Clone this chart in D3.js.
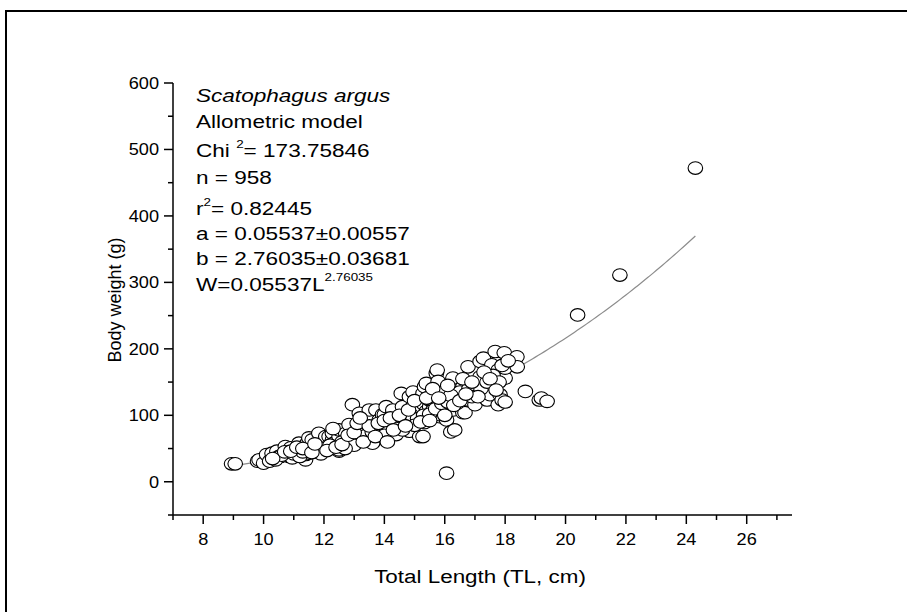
<!DOCTYPE html>
<html>
<head>
<meta charset="utf-8">
<script src="https://cdn.jsdelivr.net/npm/d3@7"></script>
<style>
  html, body { margin: 0; padding: 0; background: #fff; }
  svg { display: block; font-family: Arial, "Liberation Sans", sans-serif; }
</style>
</head>
<body>
<div id="root"></div>
<script>
const totalLength = [
  8.94, 9.06, 9.8, 9.85, 10.0, 10.1, 10.2, 10.28, 10.44, 10.5, 10.56, 10.72, 10.83, 10.85, 10.9,
  10.95, 11.17, 11.17, 11.2, 11.39, 11.4, 11.44, 11.5, 11.5, 11.61, 11.61, 11.72, 11.83, 11.83, 11.94,
  12.06, 12.06, 12.17, 12.28, 12.28, 12.28, 12.33, 12.5, 12.5, 12.5, 12.5, 12.72, 12.78, 12.83, 12.94,
  12.94, 13.06, 13.17, 13.17, 13.17, 13.33, 13.39, 13.39, 13.5, 13.5, 13.5, 13.61, 13.72, 13.83, 13.83,
  13.94, 13.94, 14.0, 14.06, 14.17, 14.22, 14.28, 14.28, 14.39, 14.5, 14.5, 14.56, 14.6, 14.61, 14.72,
  14.83, 14.83, 14.94, 14.94, 14.95, 15.06, 15.17, 15.17, 15.22, 15.28, 15.28, 15.28, 15.33, 15.33, 15.39,
  15.39, 15.39, 15.5, 15.5, 15.56, 15.61, 15.61, 15.72, 15.75, 15.78, 15.83, 15.83, 15.83, 15.94, 15.94,
  16.0, 16.06, 16.06, 16.06, 16.2, 16.27, 16.28, 16.33, 16.39, 16.6, 16.6, 16.67, 16.77, 16.77, 17.0,
  17.0, 17.17, 17.17, 17.28, 17.4, 17.5, 17.56, 17.57, 17.67, 17.77, 17.77, 17.83, 17.9, 17.97, 18.0,
  18.0, 18.0, 18.39, 18.4, 18.67, 19.13, 19.2, 19.39, 20.4, 21.8, 24.3,
  10.4, 10.6, 11.0, 11.2, 11.8, 12.0, 12.2, 12.6, 12.9, 13.2, 13.4, 13.6, 13.9, 14.1, 14.3,
  14.4, 14.7, 14.9, 15.1, 15.3, 15.5, 15.7, 15.9, 16.1, 16.4, 16.5, 16.8, 16.9, 17.2, 17.4,
  17.6, 17.8, 16.2, 15.0, 14.6, 14.0, 13.0, 12.7, 11.9, 11.3,
  10.3, 10.7, 10.9, 11.1, 11.3, 11.6, 11.7, 12.1, 12.4, 12.6, 12.8, 13.0, 13.1, 13.3, 13.5,
  13.7, 13.8, 14.0, 14.2, 14.3, 14.5, 14.7, 14.8, 15.0, 15.2, 15.4, 15.5, 15.6, 15.8, 16.0,
  16.1, 16.3, 16.5, 16.6, 16.9, 17.1, 17.3, 17.5, 17.7, 17.9, 18.1, 16.7, 14.1, 13.2, 12.3
];
const bodyWeight = [
  27, 27, 31, 33, 28, 41, 31, 43, 46, 38, 38, 53, 41, 38, 51,
  36, 48, 58, 43, 33, 41, 58, 43, 66, 53, 63, 48, 48, 73, 53,
  58, 68, 68, 58, 63, 73, 58, 46, 48, 68, 78, 73, 66, 86, 63,
  116, 63, 78, 83, 103, 93, 76, 93, 63, 98, 108, 58, 108, 78, 93,
  78, 101, 101, 113, 91, 73, 103, 108, 71, 89, 93, 133, 113, 83, 93,
  76, 128, 93, 113, 135, 103, 68, 118, 108, 68, 118, 133, 89, 143, 96,
  106, 148, 113, 123, 131, 108, 123, 163, 168, 151, 98, 101, 113, 113, 133,
  136, 13, 93, 113, 75, 156, 108, 78, 128, 104, 143, 104, 123, 173, 116,
  134, 158, 181, 186, 123, 131, 176, 146, 196, 116, 168, 131, 123, 194, 120,
  156, 171, 188, 173, 136, 123, 126, 121, 251, 311, 472,
  33, 40, 42, 38, 45, 50, 55, 60, 65, 68, 70, 75, 80, 85, 88,
  80, 98, 100, 95, 100, 102, 110, 118, 120, 118, 135, 140, 128, 140, 150,
  160, 150, 130, 85, 78, 70, 55, 50, 42, 45,
  35, 45, 46, 52, 50, 44, 57, 47, 52, 56, 70, 74, 88, 60, 84,
  68, 88, 92, 96, 78, 100, 84, 108, 122, 90, 126, 92, 140, 126, 100,
  145, 115, 122, 155, 150, 128, 165, 155, 138, 175, 182, 132, 60, 96, 80
];
const fitA = 0.05537;
const fitB = 2.76035;
const fitRange = [9.0, 24.3];
const xTicks = [8, 10, 12, 14, 16, 18, 20, 22, 24, 26];
const xMinorTicks = [7, 9, 11, 13, 15, 17, 19, 21, 23, 25, 27];
const yTicks = [0, 100, 200, 300, 400, 500, 600];
const yMinorTicks = [-50, 50, 150, 250, 350, 450, 550];

const width = 907;
const height = 612;

const svg = d3.select('#root')
  .append('svg')
  .attr('width', width)
  .attr('height', height);

// outer frame (runs off the right and bottom edges)
svg.append('rect')
  .attr('x', 6)
  .attr('y', 11)
  .attr('width', 1000)
  .attr('height', 800)
  .attr('fill', 'none')
  .attr('stroke', '#000')
  .attr('stroke-width', 2);

const x = d3.scaleLinear().domain([7, 27.5]).range([173, 792]);
const y = d3.scaleLinear().domain([-50, 600]).range([515, 83]);

// helper for horizontally stretched text
function stretchedText(parent, px, py, sx, size) {
  return parent.append('text')
    .attr('transform', `translate(${ px },${ py }) scale(${ sx },1)`)
    .attr('font-size', size)
    .attr('fill', '#000');
}

// axes lines
svg.append('line')
  .attr('x1', x(7)).attr('x2', x(27.5))
  .attr('y1', y(-50)).attr('y2', y(-50))
  .attr('stroke', '#000').attr('stroke-width', 1.5);
svg.append('line')
  .attr('x1', x(7)).attr('x2', x(7))
  .attr('y1', y(-50)).attr('y2', y(600))
  .attr('stroke', '#000').attr('stroke-width', 1.5);

// x ticks
svg.selectAll('.xmajor')
  .data(xTicks)
  .enter()
  .append('line')
  .attr('x1', (d) => x(d)).attr('x2', (d) => x(d))
  .attr('y1', y(-50)).attr('y2', y(-50) + 9)
  .attr('stroke', '#000').attr('stroke-width', 1.5);
svg.selectAll('.xminor')
  .data(xMinorTicks)
  .enter()
  .append('line')
  .attr('x1', (d) => x(d)).attr('x2', (d) => x(d))
  .attr('y1', y(-50)).attr('y2', y(-50) + 5)
  .attr('stroke', '#000').attr('stroke-width', 1.5);
xTicks.forEach((d) => {
  stretchedText(svg, x(d), y(-50) + 30, 1.1, '16.5px')
    .attr('text-anchor', 'middle')
    .text(d);
});

// y ticks
svg.selectAll('.ymajor')
  .data(yTicks)
  .enter()
  .append('line')
  .attr('x1', x(7) - 9).attr('x2', x(7))
  .attr('y1', (d) => y(d)).attr('y2', (d) => y(d))
  .attr('stroke', '#000').attr('stroke-width', 1.5);
svg.selectAll('.yminor')
  .data(yMinorTicks)
  .enter()
  .append('line')
  .attr('x1', x(7) - 5).attr('x2', x(7))
  .attr('y1', (d) => y(d)).attr('y2', (d) => y(d))
  .attr('stroke', '#000').attr('stroke-width', 1.5);
yTicks.forEach((d) => {
  stretchedText(svg, x(7) - 14, y(d) + 6, 1.1, '16.5px')
    .attr('text-anchor', 'end')
    .text(d);
});

// axis titles
stretchedText(svg, 480, 583, 1.18, '19px')
  .attr('text-anchor', 'middle')
  .text('Total Length (TL, cm)');
svg.append('text')
  .attr('transform', 'translate(121,300) rotate(-90)')
  .attr('text-anchor', 'middle')
  .attr('font-size', '18px')
  .text('Body weight (g)');

// fitted curve
const fitPoints = d3.range(fitRange[0], fitRange[1] + 0.001, 0.1)
  .map((len) => [len, fitA * Math.pow(len, fitB)]);
svg.append('path')
  .datum(fitPoints)
  .attr('d', d3.line().x((d) => x(d[0])).y((d) => y(d[1])))
  .attr('fill', 'none')
  .attr('stroke', '#8c8c8c')
  .attr('stroke-width', 1.2);

// scatter points
svg.selectAll('.pt')
  .data(totalLength.map((len, i) => [len, bodyWeight[i]]))
  .enter()
  .append('ellipse')
  .attr('cx', (d) => x(d[0]))
  .attr('cy', (d) => y(d[1]))
  .attr('rx', 7.3)
  .attr('ry', 6.3)
  .attr('fill', '#fff')
  .attr('stroke', '#000')
  .attr('stroke-width', 1.1);

// annotation block
const note = svg.append('g');
const tx = 196;
const sx = 1.22;
const fs = '18.5px';
stretchedText(note, tx, 102, sx, fs).attr('font-style', 'italic').text('Scatophagus argus');
stretchedText(note, tx, 128, sx, fs).text('Allometric model');
const chi = stretchedText(note, tx, 157, sx, fs);
chi.append('tspan').text('Chi ');
chi.append('tspan').attr('font-size', '11px').attr('dy', -9).text('2');
chi.append('tspan').attr('dy', 9).text('= 173.75846');
stretchedText(note, tx, 184, sx, fs).text('n = 958');
const r2 = stretchedText(note, tx, 215, sx, fs);
r2.append('tspan').text('r');
r2.append('tspan').attr('font-size', '11px').attr('dy', -9).text('2');
r2.append('tspan').attr('dy', 9).text('= 0.82445');
stretchedText(note, tx, 240, sx, fs).text('a = 0.05537±0.00557');
stretchedText(note, tx, 265, sx, fs).text('b = 2.76035±0.03681');
const w = stretchedText(note, tx, 291, sx, fs);
w.append('tspan').text('W=0.05537L');
w.append('tspan').attr('font-size', '11px').attr('dy', -10).text('2.76035');
</script>
</body>
</html>
